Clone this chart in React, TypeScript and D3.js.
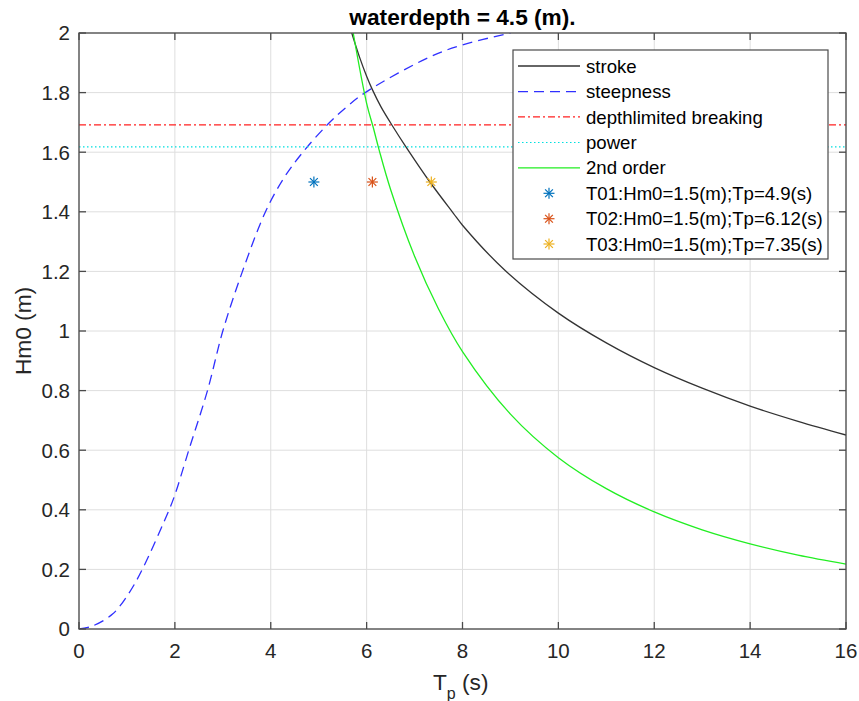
import React from "react";
import * as d3 from "d3";

// ---- data ----
const strokeTp = [5.69, 5.85, 6.0, 6.12, 6.3, 6.54, 6.82, 7.32, 7.81, 8.0, 8.89, 10, 11, 12, 13, 14, 15, 16];
const strokeHm0 = [2.0, 1.92, 1.855, 1.81, 1.752, 1.688, 1.618, 1.5, 1.395, 1.355, 1.203, 1.06, 0.96, 0.877, 0.808, 0.748, 0.697, 0.651];

const steepTp = [0, 0.28, 0.7, 1.04, 1.32, 1.88, 2.0, 2.29, 2.68, 3.0, 3.41, 3.89, 4.28, 4.67, 5.18, 5.57, 5.97, 7.32, 8.0, 9.0];
const steepHm0 = [0, 0.01, 0.05, 0.12, 0.2, 0.4, 0.45, 0.6, 0.8, 1.0, 1.2, 1.4, 1.515, 1.6, 1.692, 1.75, 1.8, 1.92, 1.96, 2.0];

const secondTp = [5.72, 6.0, 6.14, 6.26, 6.5, 7.0, 7.5, 8.0, 9.0, 10, 11, 12, 13, 14, 15, 16];
const secondHm0 = [2.0, 1.764, 1.682, 1.608, 1.475, 1.251, 1.074, 0.931, 0.721, 0.575, 0.471, 0.393, 0.333, 0.286, 0.248, 0.218];

const depthLimitedHm0 = 1.692;
const powerHm0 = 1.618;

const testNames = ["T01:Hm0=1.5(m);Tp=4.9(s)", "T02:Hm0=1.5(m);Tp=6.12(s)", "T03:Hm0=1.5(m);Tp=7.35(s)"];
const testTp = [4.9, 6.12, 7.35];
const testHm0 = [1.5, 1.5, 1.5];
const testColors = ["#0072BD", "#D95319", "#EDB120"];

const seriesNames = ["stroke", "steepness", "depthlimited breaking", "power", "2nd order"];

const xTicks = [0, 2, 4, 6, 8, 10, 12, 14, 16];
const yTicks = [0, 0.2, 0.4, 0.6, 0.8, 1, 1.2, 1.4, 1.6, 1.8, 2];

const FONT = "'Liberation Sans', Arial, Helvetica, sans-serif";

const L = 79, R = 846, T = 33, B = 629;

function Star({ cx, cy, r, color }: { cx: number; cy: number; r: number; color: string }) {
  const d = r * Math.SQRT1_2;
  return (
    <g stroke={color} strokeWidth={1.2}>
      <line x1={cx - r} y1={cy} x2={cx + r} y2={cy} />
      <line x1={cx} y1={cy - r} x2={cx} y2={cy + r} />
      <line x1={cx - d} y1={cy - d} x2={cx + d} y2={cy + d} />
      <line x1={cx - d} y1={cy + d} x2={cx + d} y2={cy - d} />
    </g>
  );
}

const STYLES = [
  { stroke: "#333", width: 1.3, dash: undefined as string | undefined },
  { stroke: "#3030ff", width: 1.3, dash: "10,6" },
  { stroke: "#ff2020", width: 1.2, dash: "7,3,2,3" },
  { stroke: "#00e0e0", width: 1.2, dash: "1.5,2.5" },
  { stroke: "#22ee22", width: 1.3, dash: undefined },
];

export default function App() {
  const x = d3.scaleLinear().domain([0, 16]).range([L, R]);
  const y = d3.scaleLinear().domain([0, 2]).range([B, T]);
  const line = d3
    .line<[number, number]>()
    .x((d) => x(d[0]))
    .y((d) => y(d[1]))
    .curve(d3.curveCatmullRom.alpha(0.5));

  const strokePath = line(strokeTp.map((t, i) => [t, strokeHm0[i]]) as [number, number][]) || "";
  const steepPath = line(steepTp.map((t, i) => [t, steepHm0[i]]) as [number, number][]) || "";
  const secondPath = line(secondTp.map((t, i) => [t, secondHm0[i]]) as [number, number][]) || "";

  const axisColor = "#4a4a4a";
  const textColor = "#262626";
  const tickLen = 7;

  const legendRows = [66, 91.7, 116.9, 142.5, 167.8, 193.3, 218.7, 244];
  const lgX0 = 518, lgX1 = 580, lgText = 586;

  return (
    <svg width={859} height={701} style={{ position: "absolute", left: 0, top: 0, background: "#fff" }} fontFamily={FONT}>
      <defs>
        <clipPath id="plotClip">
          <rect x={L} y={T} width={R - L} height={B - T} />
        </clipPath>
      </defs>
      <rect x={0} y={0} width={859} height={701} fill="#fff" />
      {/* grid */}
      <g stroke="#dedede" strokeWidth={1}>
        {xTicks.map((t) => (
          <line key={"gx" + t} x1={x(t)} x2={x(t)} y1={T} y2={B} />
        ))}
        {yTicks.map((t) => (
          <line key={"gy" + t} x1={L} x2={R} y1={y(t)} y2={y(t)} />
        ))}
      </g>
      {/* data */}
      <g clipPath="url(#plotClip)" fill="none">
        <path d={strokePath} stroke={STYLES[0].stroke} strokeWidth={STYLES[0].width} />
        <path d={steepPath} stroke={STYLES[1].stroke} strokeWidth={STYLES[1].width} strokeDasharray={STYLES[1].dash} />
        <line x1={x(0)} x2={x(16)} y1={y(depthLimitedHm0)} y2={y(depthLimitedHm0)} stroke={STYLES[2].stroke} strokeWidth={STYLES[2].width} strokeDasharray={STYLES[2].dash} />
        <line x1={x(0)} x2={x(16)} y1={y(powerHm0)} y2={y(powerHm0)} stroke={STYLES[3].stroke} strokeWidth={STYLES[3].width} strokeDasharray={STYLES[3].dash} />
        <path d={secondPath} stroke={STYLES[4].stroke} strokeWidth={STYLES[4].width} />
        {testTp.map((t, i) => (
          <Star key={"s" + i} cx={x(t)} cy={y(testHm0[i])} r={5.5} color={testColors[i]} />
        ))}
      </g>
      {/* axes frame */}
      <rect x={L} y={T} width={R - L} height={B - T} fill="none" stroke={axisColor} strokeWidth={1.3} />
      <g stroke={axisColor} strokeWidth={1.3}>
        {xTicks.map((t) => (
          <g key={"tx" + t}>
            <line x1={x(t)} x2={x(t)} y1={B} y2={B - tickLen} />
            <line x1={x(t)} x2={x(t)} y1={T} y2={T + tickLen} />
          </g>
        ))}
        {yTicks.map((t) => (
          <g key={"ty" + t}>
            <line x1={L} x2={L + tickLen} y1={y(t)} y2={y(t)} />
            <line x1={R} x2={R - tickLen} y1={y(t)} y2={y(t)} />
          </g>
        ))}
      </g>
      {/* tick labels */}
      <g fill={textColor} fontSize={20.5}>
        {xTicks.map((t) => (
          <text key={"lx" + t} x={x(t)} y={B + 29} textAnchor="middle">
            {String(t)}
          </text>
        ))}
        {yTicks.map((t) => (
          <text key={"ly" + t} x={L - 9} y={y(t) + 7.4} textAnchor="end">
            {String(t)}
          </text>
        ))}
      </g>
      {/* labels */}
      <text x={462.5} y={25} textAnchor="middle" fontWeight="bold" fontSize={22.7} fill="#000">
        waterdepth = 4.5 (m).
      </text>
      <text x={433} y={690} fontSize={22.7} fill={textColor}>
        T
        <tspan fontSize={16} dy={9}>p</tspan>
        <tspan dy={-9}> (s)</tspan>
      </text>
      <text transform={`translate(31,${(T + B) / 2}) rotate(-90)`} textAnchor="middle" fontSize={22.7} fill={textColor}>
        Hm0 (m)
      </text>
      {/* legend */}
      <g>
        <rect x={513} y={50} width={315} height={209} fill="#fff" stroke={axisColor} strokeWidth={1.2} />
        {STYLES.map((s, i) => (
          <line key={"ll" + i} x1={lgX0} x2={lgX1} y1={legendRows[i]} y2={legendRows[i]} stroke={s.stroke} strokeWidth={s.width} strokeDasharray={s.dash} />
        ))}
        {testNames.map((n, i) => (
          <Star key={"ls" + i} cx={(lgX0 + lgX1) / 2} cy={legendRows[5 + i]} r={5.5} color={testColors[i]} />
        ))}
        <g fontSize={18.6} fill="#000">
          {[...seriesNames, ...testNames].map((n, i) => (
            <text key={"lt" + i} x={lgText} y={legendRows[i] + 6.6}>
              {n}
            </text>
          ))}
        </g>
      </g>
    </svg>
  );
}
